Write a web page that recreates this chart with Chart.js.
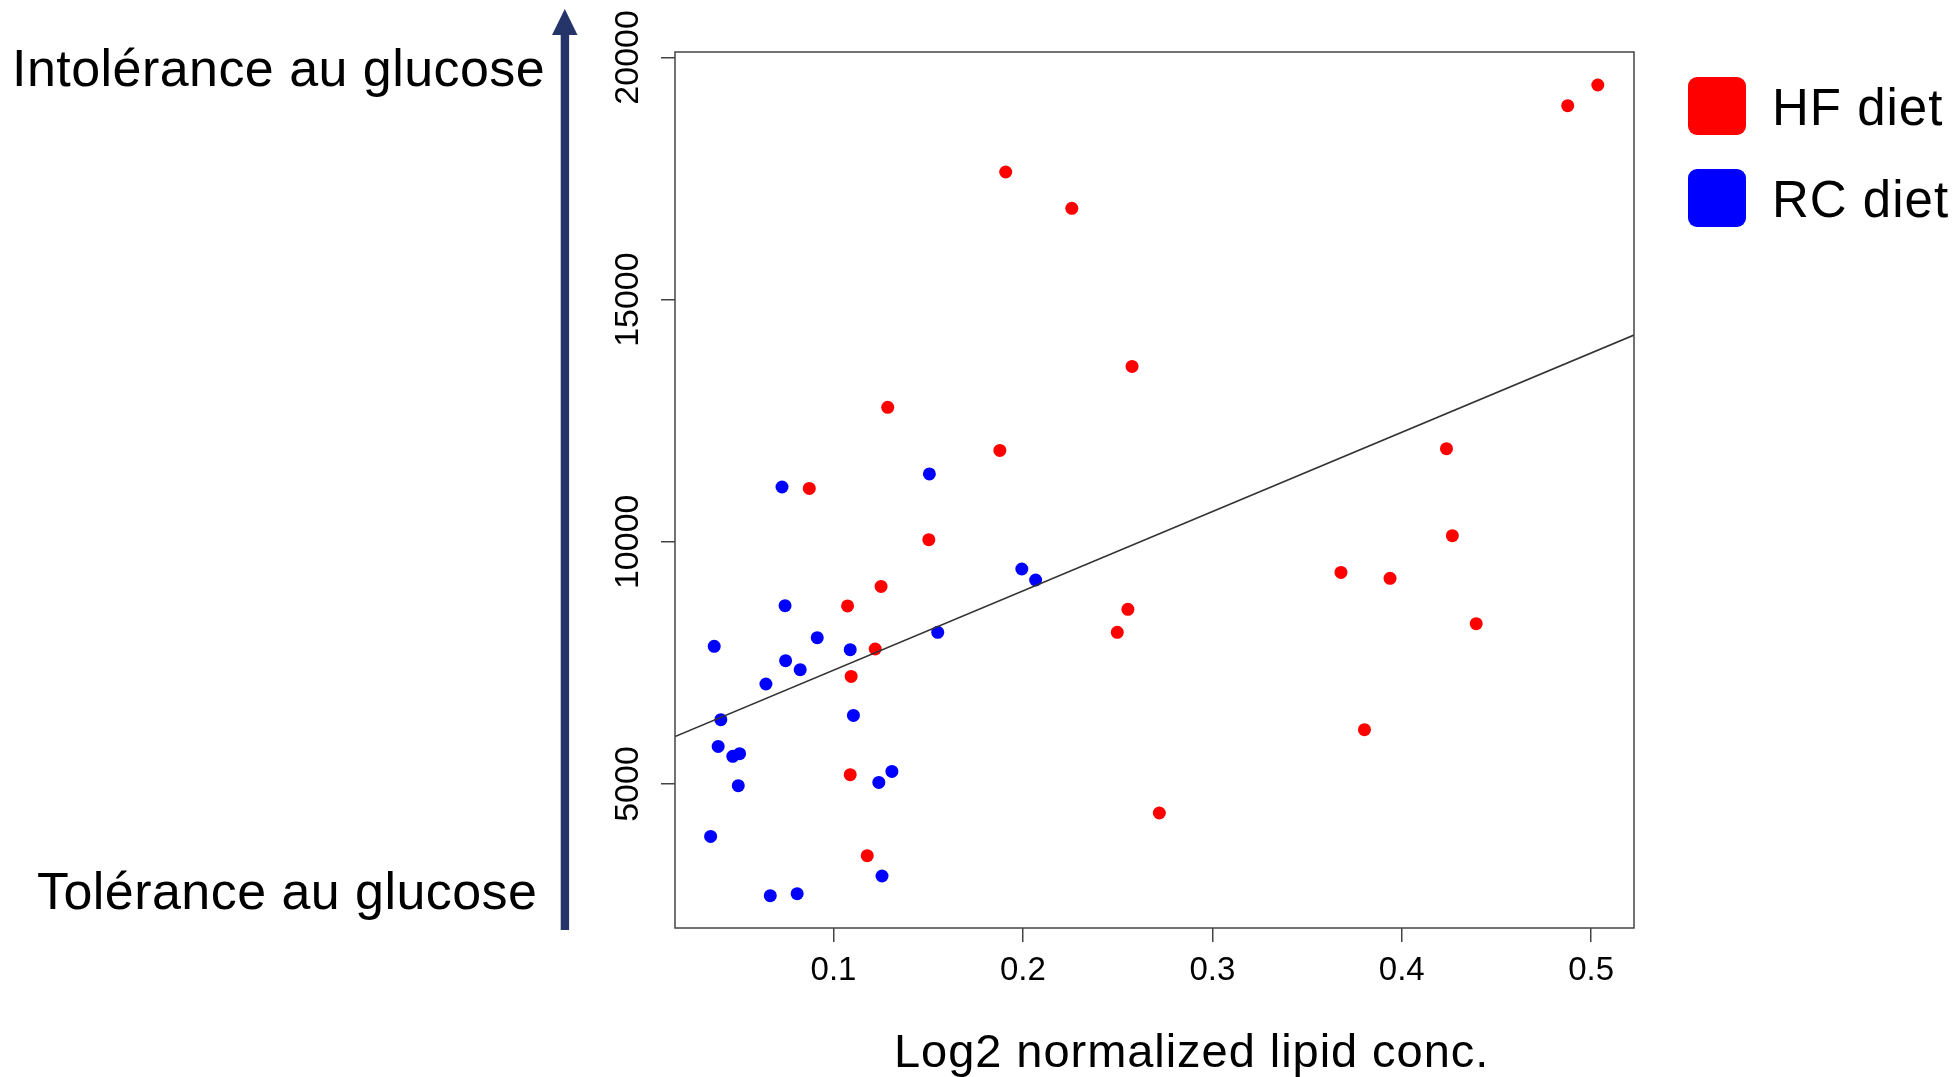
<!DOCTYPE html>
<html>
<head>
<meta charset="utf-8">
<script src="https://cdn.jsdelivr.net/npm/chart.js@4/dist/chart.umd.min.js"></script>
<style>
  html, body { margin:0; padding:0; background:#fff; }
  #wrap { position:relative; width:1957px; height:1077px; font-family:"Liberation Sans", Arial, sans-serif; color:#000; }
  #c { position:absolute; left:0; top:0; }
  .txt { position:absolute; white-space:nowrap; line-height:1; }
  .sw { position:absolute; width:58px; height:58px; border-radius:9px; }
</style>
</head>
<body>
<div id="wrap">
  <canvas id="c" width="1957" height="1077"></canvas>
  <svg style="position:absolute;left:540px;top:0" width="50" height="940">
    <rect x="20.7" y="30" width="8.4" height="900" fill="#25356a"/>
    <polygon points="24.8,9 37.5,35 12,35" fill="#25356a"/>
  </svg>
  <div class="txt" style="left:12px;top:42px;font-size:52px;letter-spacing:0.45px">Intolérance au glucose</div>
  <div class="txt" style="left:37px;top:865px;font-size:52px;letter-spacing:0.45px">Tolérance au glucose</div>
  <div class="sw" style="left:1688px;top:77px;background:#ff0000"></div>
  <div class="sw" style="left:1688px;top:169px;background:#0000ff"></div>
  <div class="txt" style="left:1772px;top:82px;font-size:51px;letter-spacing:1px">HF diet</div>
  <div class="txt" style="left:1772px;top:174px;font-size:51px;letter-spacing:1px">RC diet</div>
  <div class="txt" style="left:894px;top:1027px;font-size:47px;letter-spacing:0.95px">Log2 normalized lipid conc.</div>
</div>
<script>
// HF diet (red)
const hfX = [0.1909,0.2258,0.2576,0.1286,0.1878,0.0872,0.1503,0.1251,0.1074,0.2554,0.2498,0.1220,0.1093,0.1088,0.2720,0.1178,0.5035,0.4876,0.4236,0.4267,0.3679,0.3938,0.4393,0.3803];
const hfY = [17634,16883,13621,12775,11887,11102,10043,9079,8675,8605,8130,7787,7221,5192,4401,3520,19430,19003,11922,10126,9368,9245,8309,6121];
// RC diet (blue)
const rcX = [0.1506,0.0728,0.1994,0.2067,0.0744,0.1550,0.0914,0.0370,0.1088,0.0747,0.0824,0.0643,0.1105,0.0405,0.0391,0.0468,0.0504,0.0497,0.1308,0.1239,0.0351,0.1256,0.0666,0.0808];
const rcY = [11400,11131,9438,9211,8681,8130,8020,7841,7772,7545,7360,7064,6416,6327,5776,5570,5625,4965,5260,5033,3918,3101,2694,2735];
// regression line, ends read at the plot edges
const fitX = [0.0163, 0.5226];
const fitY = [5980, 14268];
const xTicks = [0.1, 0.2, 0.3, 0.4, 0.5];
const yTicks = [5000, 10000, 15000, 20000];

const pts = (xs, ys) => xs.map((x, i) => ({x: x, y: ys[i]}));

// R-style box round the plot
const boxPlugin = {
  id: 'box',
  afterDraw(chart){
    const a = chart.chartArea, ctx = chart.ctx;
    ctx.save();
    ctx.strokeStyle = '#444';
    ctx.lineWidth = 1.5;
    ctx.strokeRect(a.left, a.top, a.right - a.left, a.bottom - a.top);
    ctx.restore();
  }
};

new Chart(document.getElementById('c').getContext('2d'), {
  type: 'scatter',
  data: {
    datasets: [
      {label:'fit', data: pts(fitX, fitY), showLine:true, borderColor:'#333', borderWidth:1.6, pointRadius:0, fill:false},
      {label:'HF diet', data: pts(hfX, hfY), backgroundColor:'#ff0000', borderWidth:0, pointRadius:6.5},
      {label:'RC diet', data: pts(rcX, rcY), backgroundColor:'#0000ff', borderWidth:0, pointRadius:6.5}
    ]
  },
  options: {
    responsive:false,
    animation:false,
    layout:{padding:{left:0, right:323, top:52, bottom:0}},
    plugins:{legend:{display:false}, tooltip:{enabled:false}},
    scales:{
      x:{
        type:'linear', min:0.0163, max:0.5226,
        afterBuildTicks: s => { s.ticks = xTicks.map(v => ({value:v})); },
        afterFit: s => { s.height = 149; },
        grid:{drawOnChartArea:false, drawTicks:true, tickLength:14, tickColor:'#444', lineWidth:1.5},
        border:{display:false},
        ticks:{color:'#000', padding:9, font:{family:'Liberation Sans', size:33}, callback: v => String(v)}
      },
      y:{
        type:'linear', min:2027, max:20111,
        afterBuildTicks: s => { s.ticks = yTicks.map(v => ({value:v})); },
        afterFit: s => { s.width = 675; },
        grid:{drawOnChartArea:false, drawTicks:true, tickLength:14, tickColor:'#444', lineWidth:1.5},
        border:{display:false},
        ticks:{color:'#000', padding:-15, minRotation:90, maxRotation:90, crossAlign:'center', font:{family:'Liberation Sans', size:34}, callback: v => String(v)}
      }
    }
  },
  plugins:[boxPlugin]
});
</script>
</body>
</html>
